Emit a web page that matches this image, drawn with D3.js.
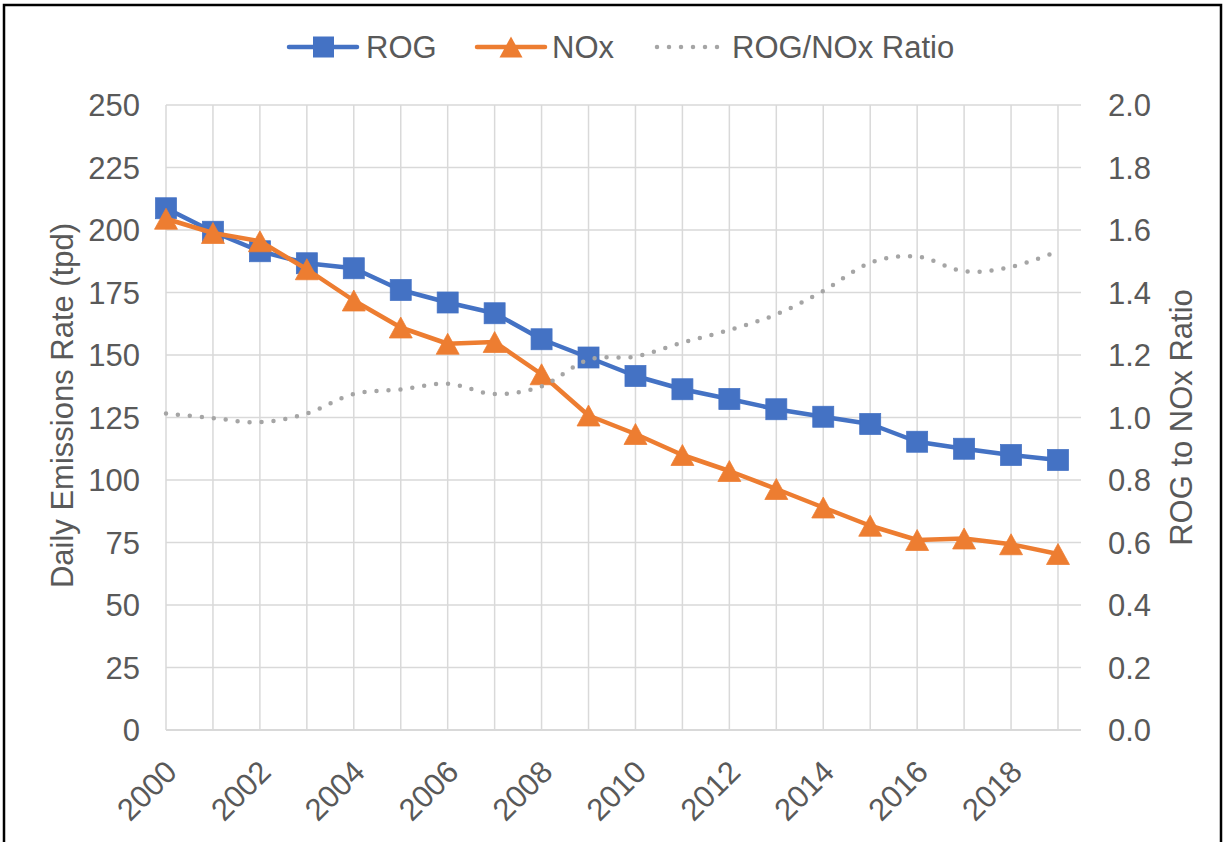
<!DOCTYPE html>
<html>
<head>
<meta charset="utf-8">
<script src="https://cdn.jsdelivr.net/npm/d3@7"></script>
<style>
  html, body { margin: 0; padding: 0; background: #fff; }
  svg { display: block; font-family: "Liberation Sans", Arial, sans-serif; }
</style>
</head>
<body>
<svg id="chart" width="1225" height="842"></svg>
<script>
// Daily emissions (tons per day) and ROG/NOx ratio, 2000–2019
const years = [2000, 2001, 2002, 2003, 2004, 2005, 2006, 2007, 2008, 2009,
               2010, 2011, 2012, 2013, 2014, 2015, 2016, 2017, 2018, 2019];
const rog = [208.7, 199.3, 191.5, 186.7, 184.7, 176.0, 171.0, 166.7, 156.3, 149.0,
             141.6, 136.3, 132.4, 128.3, 125.3, 122.4, 115.3, 112.5, 110.0, 108.0];
const nox = [204.5, 198.8, 195.5, 184.3, 171.8, 161.0, 154.5, 155.2, 142.3, 125.8,
             118.4, 110.0, 103.6, 96.4, 89.0, 81.7, 76.0, 76.6, 74.3, 70.4];
const ratio = [1.013, 0.998, 0.985, 1.013, 1.075, 1.09, 1.108, 1.075, 1.10, 1.185,
               1.195, 1.24, 1.28, 1.33, 1.405, 1.495, 1.515, 1.468, 1.482, 1.532];
const leftTicks = [0, 25, 50, 75, 100, 125, 150, 175, 200, 225, 250];
const rightTicks = [0, 0.2, 0.4, 0.6, 0.8, 1.0, 1.2, 1.4, 1.6, 1.8, 2.0];
const yearLabels = [2000, 2002, 2004, 2006, 2008, 2010, 2012, 2014, 2016, 2018];

const BLUE = "#4472C4", ORANGE = "#ED7D31", GREY = "#A5A5A5";
const GRID = "#D9D9D9", TEXT = "#595959";
const FONT = 31;

const svg = d3.select("#chart");
const plot = { left: 166, right: 1081, top: 105, bottom: 730 };

const x = d3.scaleLinear()
  .domain([years[0], years[years.length - 1] + 0.49])
  .range([plot.left, plot.right]);
const y = d3.scaleLinear().domain([0, 250]).range([plot.bottom, plot.top]);
const y2 = d3.scaleLinear().domain([0, 2]).range([plot.bottom, plot.top]);

// outer frame
svg.append("rect")
  .attr("x", 4).attr("y", 5).attr("width", 1217).attr("height", 850)
  .attr("fill", "none").attr("stroke", "#000").attr("stroke-width", 2.5);

// horizontal gridlines
svg.append("g").selectAll("line").data(leftTicks).join("line")
  .attr("x1", plot.left).attr("x2", plot.right)
  .attr("y1", d => y(d)).attr("y2", d => y(d))
  .attr("stroke", GRID).attr("stroke-width", d => d === 0 ? 2 : 1.5);

// vertical gridlines at each year
svg.append("g").selectAll("line").data(years).join("line")
  .attr("x1", d => x(d)).attr("x2", d => x(d))
  .attr("y1", plot.top).attr("y2", plot.bottom)
  .attr("stroke", GRID).attr("stroke-width", 1.5);

// left axis labels
svg.append("g").selectAll("text").data(leftTicks).join("text")
  .attr("x", 140).attr("y", d => y(d))
  .attr("dy", "0.36em")
  .attr("text-anchor", "end")
  .attr("font-size", FONT).attr("fill", TEXT)
  .text(d => d);

// right axis labels
svg.append("g").selectAll("text").data(rightTicks).join("text")
  .attr("x", 1108).attr("y", d => y2(d))
  .attr("dy", "0.36em")
  .attr("text-anchor", "start")
  .attr("font-size", FONT).attr("fill", TEXT)
  .text(d => d.toFixed(1));

// year labels, rotated
svg.append("g").selectAll("text").data(yearLabels).join("text")
  .attr("transform", d => `translate(${x(d) - 3},${plot.bottom + 28}) rotate(-45)`)
  .attr("text-anchor", "end")
  .attr("dy", "0.72em")
  .attr("font-size", FONT).attr("fill", TEXT)
  .text(d => d);

// axis titles
svg.append("text")
  .attr("transform", `translate(73,${(plot.top + plot.bottom) / 2 - 12}) rotate(-90)`)
  .attr("text-anchor", "middle")
  .attr("font-size", FONT).attr("fill", TEXT)
  .text("Daily Emissions Rate (tpd)");
svg.append("text")
  .attr("transform", `translate(1192,${(plot.top + plot.bottom) / 2}) rotate(-90)`)
  .attr("text-anchor", "middle")
  .attr("font-size", FONT).attr("fill", TEXT)
  .text("ROG to NOx Ratio");

// marker shapes
const SQ = 21, TW = 23, TH = 21;
const triPath = `M0,${-TH / 2}L${TW / 2},${TH / 2}L${-TW / 2},${TH / 2}Z`;

// ROG series
const rogData = years.map((yr, i) => [yr, rog[i]]);
svg.append("path")
  .datum(rogData)
  .attr("fill", "none").attr("stroke", BLUE).attr("stroke-width", 4.5)
  .attr("stroke-linejoin", "round").attr("stroke-linecap", "round")
  .attr("d", d3.line().x(d => x(d[0])).y(d => y(d[1])));
svg.append("g").selectAll("rect").data(rogData).join("rect")
  .attr("x", d => x(d[0]) - SQ / 2).attr("y", d => y(d[1]) - SQ / 2)
  .attr("width", SQ).attr("height", SQ)
  .attr("fill", BLUE).attr("stroke", BLUE).attr("stroke-width", 0.75);

// NOx series
const noxData = years.map((yr, i) => [yr, nox[i]]);
svg.append("path")
  .datum(noxData)
  .attr("fill", "none").attr("stroke", ORANGE).attr("stroke-width", 4.5)
  .attr("stroke-linejoin", "round").attr("stroke-linecap", "round")
  .attr("d", d3.line().x(d => x(d[0])).y(d => y(d[1])));
svg.append("g").selectAll("path").data(noxData).join("path")
  .attr("transform", d => `translate(${x(d[0])},${y(d[1])})`)
  .attr("d", triPath)
  .attr("fill", ORANGE).attr("stroke", ORANGE).attr("stroke-width", 0.75);

// ratio series on secondary axis, smoothed dotted line
const ratioData = years.map((yr, i) => [yr, ratio[i]]);
svg.append("path")
  .datum(ratioData)
  .attr("fill", "none").attr("stroke", GREY).attr("stroke-width", 4.5)
  .attr("stroke-linecap", "round").attr("stroke-dasharray", "0 12")
  .attr("d", d3.line().curve(d3.curveCardinal.tension(0))
    .x(d => x(d[0])).y(d => y2(d[1])));

// legend
const legend = svg.append("g");
const ly = 47, lbase = 58;
legend.append("line").attr("x1", 289).attr("x2", 357).attr("y1", ly).attr("y2", ly)
  .attr("stroke", BLUE).attr("stroke-width", 4.5).attr("stroke-linecap", "round");
legend.append("rect").attr("x", 323.5 - SQ / 2).attr("y", ly - SQ / 2)
  .attr("width", SQ).attr("height", SQ).attr("fill", BLUE);
legend.append("text").attr("x", 366).attr("y", lbase)
  .attr("font-size", FONT).attr("fill", TEXT).text("ROG");

legend.append("line").attr("x1", 477).attr("x2", 545).attr("y1", ly).attr("y2", ly)
  .attr("stroke", ORANGE).attr("stroke-width", 4.5).attr("stroke-linecap", "round");
legend.append("path").attr("transform", `translate(511,${ly})`).attr("d", triPath)
  .attr("fill", ORANGE);
legend.append("text").attr("x", 552).attr("y", lbase)
  .attr("font-size", FONT).attr("fill", TEXT).text("NOx");

legend.append("line").attr("x1", 657).attr("x2", 718).attr("y1", ly).attr("y2", ly)
  .attr("stroke", GREY).attr("stroke-width", 4.5).attr("stroke-linecap", "round")
  .attr("stroke-dasharray", "0 12");
legend.append("text").attr("x", 732).attr("y", lbase)
  .attr("font-size", FONT).attr("fill", TEXT).text("ROG/NOx Ratio");
</script>
</body>
</html>
